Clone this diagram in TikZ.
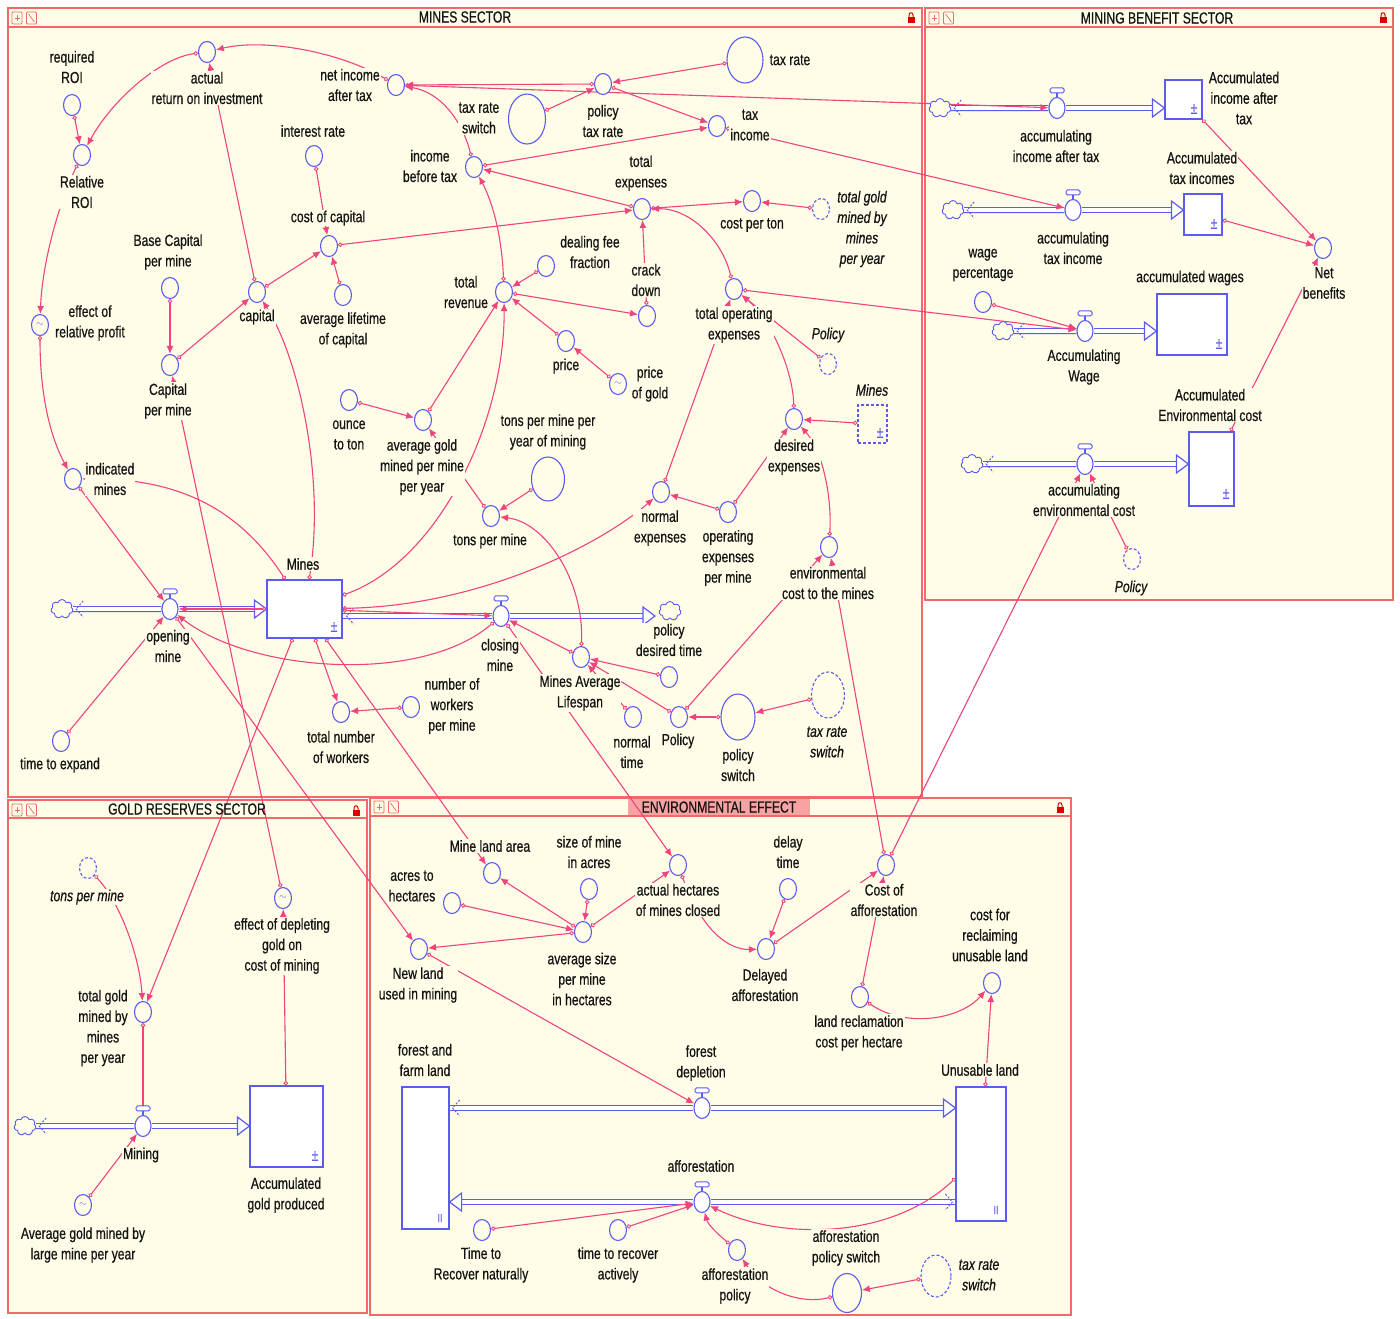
\documentclass[tikz,border=0pt]{standalone}
\usepackage{fontspec}
\setmainfont{Liberation Sans}[FakeStretch=0.76, FakeBold=0.6]
\usetikzlibrary{shapes.geometric,shapes.symbols,arrows.meta,calc}
\pgfdeclarelayer{back}
\pgfdeclarelayer{bg}
\pgfsetlayers{back,bg,main}

\definecolor{cream}{HTML}{FFFDE7}
\definecolor{frame}{HTML}{F06A6A}
\definecolor{linkc}{HTML}{F0447E}
\definecolor{bluec}{HTML}{5B5BEE}
\definecolor{titlebg}{HTML}{F7A3A3}
\definecolor{txt}{HTML}{141414}

\newcommand{\lblfont}{\fontsize{16}{20.5}\selectfont}
\newcommand{\gsym}{\textcolor{bluec}{\fontsize{10}{10}\selectfont$\sim$}}
\newcommand{\pmfont}{\fontsize{16}{16}\selectfont}

\tikzset{
  conv/.style={ellipse, draw=bluec, line width=1.1pt, fill=cream,
    minimum width=17pt, minimum height=21pt, inner sep=0pt},
  bigconv/.style={conv, minimum width=36pt, minimum height=46pt},
  ghost/.style={dash pattern=on 3pt off 2pt},
  valvebody/.style={ellipse, draw=bluec, line width=1.1pt, fill=white,
    minimum width=16pt, minimum height=21pt, inner sep=0pt},
  stockbox/.style={rectangle, draw=bluec, line width=1.2pt, fill=white, inner sep=0pt},
  cloudnode/.style={cloud, cloud puffs=7, draw=bluec, line width=0.9pt,
    minimum width=22pt, minimum height=19pt, inner sep=0pt, fill=cream},
  pipe/.style={draw=bluec, line width=1.2pt, double=white, double distance=3.6pt},
  pipehead/.style={draw=bluec, line width=1.2pt, fill=white, line join=miter},
  chev/.style={draw=bluec, line width=1pt, dash pattern=on 2pt off 1.5pt},
  link/.style={draw=linkc, line width=1.1pt,
    {Circle[open,length=4.5pt,width=4.5pt,line width=0.9pt]}-{Latex[length=8pt,width=7pt]}},
  lbl/.style={align=center, inner sep=1pt, fill=cream, font=\lblfont, text=txt},
  ilbl/.style={lbl, font=\lblfont\itshape},
  sector/.style={draw=frame, line width=1.5pt, fill=cream},
  headline/.style={draw=frame, line width=1.5pt},
  ttl/.style={inner sep=0pt, font=\lblfont, text=txt},
  pmark/.style={text=bluec, font=\pmfont, inner sep=0pt},
}

% inflow head pointing right / left, dashed chevrons
\newcommand{\headR}[1]{\draw[pipehead] ($#1+(-12,-9)$) -- #1 -- ($#1+(-12,9)$) -- cycle;}
\newcommand{\headL}[1]{\draw[pipehead] ($#1+(12,-9)$) -- #1 -- ($#1+(12,9)$) -- cycle;}
\newcommand{\chevL}[1]{\draw[chev] ($#1+(7,-8)$) -- #1 -- ($#1+(7,8)$);}
\newcommand{\chevR}[1]{\draw[chev] ($#1+(-7,-8)$) -- #1 -- ($#1+(-7,8)$);}
% flow valve with its handle
\newcommand{\mkvalve}[3]{%
  \node[valvebody] (#1) at (#2,#3) {};
  \draw[bluec, line width=1.3pt] (#1.north) -- ++(0,-4);
  \draw[bluec, line width=1pt, fill=white, rounded corners=1.5pt]
    ($(#1.north)+(-7,-4)$) rectangle ($(#1.north)+(7,-9)$);}
% title bar icons
\newcommand{\baricons}[2]{%
  \draw[frame, line width=0.9pt, rounded corners=1pt] (#1-5,#2-6) rectangle (#1+5,#2+6);
  \draw[frame, line width=0.7pt] (#1-2.5,#2) -- (#1+2.5,#2) (#1,#2-3) -- (#1,#2+3);
  \draw[frame, line width=0.9pt, rounded corners=1pt] (#1+9.5,#2-6) rectangle (#1+19.5,#2+6);
  \draw[frame, line width=0.7pt] (#1+11.5,#2-4) -- (#1+17.5,#2+4);}
\newcommand{\lockicon}[2]{%
  \fill[red!85!black] (#1-3.5,#2-1) rectangle (#1+3.5,#2+5);
  \draw[red!85!black, line width=1pt] (#1-2,#2-1) -- (#1-2,#2-3)
    .. controls (#1-2,#2-6) and (#1+2,#2-6) .. (#1+2,#2-3) -- (#1+2,#2-1);}

\begin{document}
\begin{tikzpicture}[x=1pt, y=-1pt]
\useasboundingbox (0,0) rectangle (1400,1318);

% ---------------- sector frames ----------------
\begin{pgfonlayer}{back}
\fill[white] (0,0) rectangle (1400,1318);
\draw[sector] (8,8) rectangle (922,797);
\draw[headline] (8,27) -- (922,27);
\draw[sector] (925,8) rectangle (1393,600);
\draw[headline] (925,27) -- (1393,27);
\draw[sector] (8,800) rectangle (367,1313);
\draw[headline] (8,818) -- (367,818);
\draw[sector] (370,798) rectangle (1071,1315);
\fill[titlebg] (628,799) rectangle (810,816);
\draw[headline] (370,816) -- (1071,816);
\baricons{17}{18}
\baricons{934}{18}
\baricons{17}{810}
\baricons{379}{807}
\lockicon{911}{18}
\lockicon{1383}{18}
\lockicon{356}{811}
\lockicon{1060}{808}
\end{pgfonlayer}

\node[ttl] (t-mines) at (465,17) {MINES SECTOR};
\node[ttl] (t-benefit) at (1157,18) {MINING BENEFIT SECTOR};
\node[ttl] (t-gold) at (187,809) {GOLD RESERVES SECTOR};
\node[ttl] (t-env) at (719,807) {ENVIRONMENTAL EFFECT};

% ---------------- labels ----------------
\node[lbl] (reqroi-l) at (72,67) {required\\ROI};
\node[lbl] (relroi-l) at (82,192) {Relative\\ROI};
\node[lbl] (actroi-l) at (207,88) {actual\\return on investment};
\node[lbl] (netinc-l) at (350,85) {net income\\after tax};
\node[lbl] (intrate-l) at (313,131) {interest rate};
\node[lbl] (costcap-l) at (328,218) {cost of capital};
\node[lbl] (incbt-l) at (430,166) {income\\before tax};
\node[lbl] (taxsw-l) at (479,118) {tax rate\\switch};
\node[lbl] (poltax-l) at (603,121) {policy\\tax rate};
\node[lbl] (taxrate-l) at (790,60) {tax rate};
\node[lbl] (taxinc-l) at (750,125) {tax\\income};
\node[lbl] (totexp-l) at (641,173) {total\\expenses};
\node[lbl] (costton-l) at (752,225) {cost per ton};
\node[ilbl] (totgoldg-l) at (862,229) {total gold\\mined by\\mines\\per year};
\node[lbl] (basecap-l) at (168,252) {Base Capital\\per mine};
\node[lbl] (capital-l) at (257,317) {capital};
\node[lbl] (avglife-l) at (343,330) {average lifetime\\of capital};
\node[lbl] (dealfee-l) at (590,252) {dealing fee\\fraction};
\node[lbl] (totrev-l) at (466,292) {total\\revenue};
\node[lbl] (crack-l) at (646,280) {crack\\down};
\node[lbl] (totopex-l) at (734,325) {total operating\\expenses};
\node[ilbl] (policyg-l) at (828,335) {Policy};
\node[lbl] (effrel-l) at (90,323) {effect of\\relative profit};
\node[lbl] (cappm-l) at (168,401) {Capital\\per mine};
\node[lbl] (price-l) at (566,366) {price};
\node[lbl] (pricegold-l) at (650,384) {price\\of gold};
\node[ilbl] (minesg-l) at (872,390) {Mines};
\node[lbl] (ounce-l) at (349,435) {ounce\\to ton};
\node[lbl] (tpmpy-l) at (548,432) {tons per mine per\\year of mining};
\node[lbl] (desexp-l) at (794,457) {desired\\expenses};
\node[lbl] (avggold-l) at (422,467) {average gold\\mined per mine\\per year};
\node[lbl] (indmines-l) at (110,479) {indicated\\mines};
\node[lbl] (normexp-l) at (660,528) {normal\\expenses};
\node[lbl] (opexpm-l) at (728,558) {operating\\expenses\\per mine};
\node[lbl] (tonspm-l) at (490,541) {tons per mine};
\node[lbl] (envcost-l) at (828,583) {environmental\\cost to the mines};
\node[lbl] (mines-l) at (303,564) {Mines};
\node[lbl] (openv-l) at (168,646) {opening\\mine};
\node[lbl] (closev-l) at (500,655) {closing\\mine};
\node[lbl] (poldt-l) at (669,640) {policy\\desired time};
\node[lbl] (mal-l) at (580,693) {Mines Average\\Lifespan};
\node[lbl] (nwpm-l) at (452,706) {number of\\workers\\per mine};
\node[lbl] (totwork-l) at (341,747) {total number\\of workers};
\node[lbl] (normtime-l) at (632,752) {normal\\time};
\node[lbl] (policy-l) at (678,741) {Policy};
\node[lbl] (polsw-l) at (738,765) {policy\\switch};
\node[ilbl] (taxswg-l) at (827,742) {tax rate\\switch};
\node[lbl] (timeexp-l) at (60,765) {time to expand};

\node[lbl] (accinc-l) at (1244,98) {Accumulated\\income after\\tax};
\node[lbl] (vinc-l) at (1056,146) {accumulating\\income after tax};
\node[lbl] (acctax-l) at (1202,168) {Accumulated\\tax incomes};
\node[lbl] (vtax-l) at (1073,248) {accumulating\\tax income};
\node[lbl] (netben-l) at (1324,283) {Net\\benefits};
\node[lbl] (wageperc-l) at (983,265) {wage\\percentage};
\node[lbl] (accwage-l) at (1190,278) {accumulated wages};
\node[lbl] (vwage-l) at (1084,367) {Accumulating\\Wage};
\node[lbl] (accenv-l) at (1210,405) {Accumulated\\Environmental cost};
\node[lbl] (venv-l) at (1084,500) {accumulating\\environmental cost};
\node[ilbl] (policyg2-l) at (1131,588) {Policy};

\node[ilbl] (tpmg-l) at (87,897) {tons per mine};
\node[lbl] (effdepl-l) at (282,946) {effect of depleting\\gold on\\cost of mining};
\node[lbl] (totgold-l) at (103,1028) {total gold\\mined by\\mines\\per year};
\node[lbl] (vmin-l) at (141,1155) {Mining};
\node[lbl] (accgold-l) at (286,1195) {Accumulated\\gold produced};
\node[lbl] (avglarge-l) at (83,1245) {Average gold mined by\\large mine per year};

\node[lbl] (mla-l) at (490,846) {Mine land area};
\node[lbl] (sizem-l) at (589,852) {size of mine\\in acres};
\node[lbl] (acres-l) at (412,886) {acres to\\hectares};
\node[lbl] (acth-l) at (678,900) {actual hectares\\of mines closed};
\node[lbl] (delayt-l) at (788,852) {delay\\time};
\node[lbl] (costaff-l) at (884,900) {Cost of\\afforestation};
\node[lbl] (costrecl-l) at (990,935) {cost for\\reclaiming\\unusable land};
\node[lbl] (newland-l) at (418,985) {New land\\used in mining};
\node[lbl] (avgsize-l) at (582,979) {average size\\per mine\\in hectares};
\node[lbl] (delaff-l) at (765,985) {Delayed\\afforestation};
\node[lbl] (landrec-l) at (859,1033) {land reclamation\\cost per hectare};
\node[lbl] (forest-l) at (425,1060) {forest and\\farm land};
\node[lbl] (vdep-l) at (701,1063) {forest\\depletion};
\node[lbl] (unusable-l) at (980,1070) {Unusable land};
\node[lbl] (vaff-l) at (701,1166) {afforestation};
\node[lbl] (timenat-l) at (481,1265) {Time to\\Recover naturally};
\node[lbl] (timeact-l) at (618,1265) {time to recover\\actively};
\node[lbl] (affpol-l) at (735,1286) {afforestation\\policy};
\node[lbl] (affpolsw-l) at (846,1248) {afforestation\\policy switch};
\node[ilbl] (taxswg2-l) at (979,1275) {tax rate\\switch};

% ---------------- mines sector elements ----------------
\node[conv] (reqroi) at (72,105) {};
\node[conv] (relroi) at (82,155) {};
\node[conv] (actroi) at (207,52) {};
\node[conv] (netinc) at (396,85) {};
\node[conv] (intrate) at (314,156) {};
\node[conv] (costcap) at (329,246) {};
\node[conv] (incbt) at (474,167) {};
\node[bigconv, minimum width=37pt, minimum height=50pt] (taxsw) at (527,119) {};
\node[conv] (poltax) at (603,84) {};
\node[bigconv] (taxrate) at (745,60) {};
\node[conv] (taxinc) at (717,126) {};
\node[conv] (totexp) at (642,209) {};
\node[conv] (costton) at (752,201) {};
\node[conv, ghost] (totgoldg) at (821,209) {};
\node[conv] (basecap) at (170,288) {};
\node[conv] (capital) at (257,292) {};
\node[conv] (avglife) at (343,295) {};
\node[conv] (dealfee) at (546,266) {};
\node[conv] (totrev) at (504,292) {};
\node[conv] (crack) at (647,316) {};
\node[conv] (totopex) at (734,289) {};
\node[conv, ghost] (policyg) at (828,364) {};
\node[conv] (effrel) at (40,325) {\gsym};
\node[conv] (cappm) at (170,365) {};
\node[conv] (price) at (566,341) {};
\node[conv] (pricegold) at (618,384) {\gsym};
\node[conv] (ounce) at (349,400) {};
\node[conv] (avggold) at (423,420) {};
\node[conv, minimum width=33pt, minimum height=44pt] (tpmpy) at (548,479) {};
\node[stockbox, ghost, fill=cream, minimum width=29pt, minimum height=38pt] (minesg) at (872.5,424) {};
\node[pmark] (minesg-pm) at (880,433) {±};
\node[conv] (desexp) at (794,419) {};
\node[conv] (indmines) at (73,479) {};
\node[conv] (tonspm) at (491,516) {};
\node[conv] (normexp) at (661,492) {};
\node[conv] (opexpm) at (728,512) {};
\node[conv] (envcost) at (829,547) {};
\node[stockbox, minimum width=75pt, minimum height=58pt] (mines) at (304.5,609) {};
\node[pmark] (mines-pm) at (334,627) {±};
\mkvalve{openv}{170}{609}
\mkvalve{closev}{501}{616}
\node[conv] (mal) at (581,657) {};
\node[conv] (poldt) at (669,677) {};
\node[conv] (normtime) at (633,717) {};
\node[conv] (policy) at (679,717) {};
\node[bigconv, minimum width=34pt] (polsw) at (738,717) {};
\node[bigconv, ghost, minimum width=33pt] (taxswg) at (828,695) {};
\node[conv] (nwpm) at (411,707) {};
\node[conv] (totwork) at (341,712) {};
\node[conv] (timeexp) at (61,741) {};
\node[cloudnode] (cl1) at (62,609) {};
\node[cloudnode] (cl2) at (670,611) {};

% ---------------- mining benefit sector elements ----------------
\node[cloudnode] (cl3) at (940,108) {};
\mkvalve{vinc}{1057}{108}
\node[stockbox, minimum width=37pt, minimum height=39pt] (accinc) at (1183.5,99.5) {};
\node[pmark] (accinc-pm) at (1194,109) {±};
\node[cloudnode] (cl4) at (953,210) {};
\mkvalve{vtax}{1073}{210}
\node[stockbox, minimum width=38pt, minimum height=41pt] (acctax) at (1203,214.5) {};
\node[pmark] (acctax-pm) at (1214,224) {±};
\node[conv] (netben) at (1323,248) {};
\node[conv] (wageperc) at (983,302) {};
\node[cloudnode] (cl5) at (1003,331) {};
\mkvalve{vwage}{1085}{331}
\node[stockbox, minimum width=70pt, minimum height=61pt] (accwage) at (1192,324.5) {};
\node[pmark] (accwage-pm) at (1219,344) {±};
\node[cloudnode] (cl6) at (972,464) {};
\mkvalve{venv}{1085}{464}
\node[stockbox, minimum width=45pt, minimum height=74pt] (accenv) at (1211.5,469) {};
\node[pmark] (accenv-pm) at (1226,494) {±};
\node[conv, ghost] (policyg2) at (1132,559) {};

% ---------------- gold reserves sector elements ----------------
\node[conv, ghost] (tpmg) at (88,868) {};
\node[conv] (effdepl) at (283,898) {\gsym};
\node[conv] (totgold) at (143,1012) {};
\node[cloudnode] (cl7) at (25,1126) {};
\mkvalve{vmin}{143}{1126}
\node[stockbox, minimum width=73pt, minimum height=81pt] (accgold) at (286.5,1126.5) {};
\node[pmark] (accgold-pm) at (315,1156) {±};
\node[conv] (avglarge) at (83,1205) {\gsym};

% ---------------- environmental effect elements ----------------
\node[conv] (mla) at (492,873) {};
\node[conv] (acres) at (452,903) {};
\node[conv] (sizem) at (589,889) {};
\node[conv] (avgsize) at (583,932) {};
\node[conv] (newland) at (419,949) {};
\node[conv] (acth) at (678,865) {};
\node[conv] (delayt) at (788,889) {};
\node[conv] (delaff) at (766,949) {};
\node[conv] (costaff) at (886,865) {};
\node[conv] (landrec) at (860,997) {};
\node[conv] (costrecl) at (992,983) {};
\node[stockbox, minimum width=47pt, minimum height=142pt] (forest) at (425.5,1158) {};
\node[text=bluec, font=\fontsize{12}{12}\selectfont, inner sep=0pt] (forest-mk) at (440,1218) {II};
\node[stockbox, minimum width=50pt, minimum height=134pt] (unusable) at (981,1154) {};
\node[text=bluec, font=\fontsize{12}{12}\selectfont, inner sep=0pt] (unusable-mk) at (996,1210) {II};
\mkvalve{vdep}{702}{1108}
\mkvalve{vaff}{702}{1202}
\node[conv] (timenat) at (482,1230) {};
\node[conv] (timeact) at (618,1230) {};
\node[conv] (affpol) at (737,1250) {};
\node[bigconv, minimum width=29pt, minimum height=39pt] (affpolsw) at (847,1293) {};
\node[bigconv, ghost, minimum width=30pt, minimum height=42pt] (taxswg2) at (936,1276) {};

% ---------------- flows ----------------
\begin{pgfonlayer}{bg}
% opening mine
\coordinate (minIn) at (mines.west |- openv);
\coordinate (cl1ch) at ($(cl1.east)+(3,0)$);
\draw[pipe] (cl1) -- (openv);
\draw[pipe] (openv) -- ($(minIn)+(-12,0)$);
\headR{(minIn)}
\chevL{(cl1ch)}
% closing mine
\coordinate (minOut) at (mines.east |- closev);
\coordinate (minOutCh) at ($(minOut)+(4,0)$);
\coordinate (cl2in) at (655,616);
\draw[pipe] (minOut) -- (closev);
\draw[pipe] (closev) -- ($(cl2in)+(-12,0)$);
\headR{(cl2in)}
\chevL{(minOutCh)}
% accumulating income after tax
\coordinate (incIn) at (accinc.west |- vinc);
\coordinate (cl3ch) at ($(cl3.east)+(3,0)$);
\draw[pipe] (cl3) -- (vinc);
\draw[pipe] (vinc) -- ($(incIn)+(-12,0)$);
\headR{(incIn)}
\chevL{(cl3ch)}
% accumulating tax income
\coordinate (taxIn) at (acctax.west |- vtax);
\coordinate (cl4ch) at ($(cl4.east)+(3,0)$);
\draw[pipe] (cl4) -- (vtax);
\draw[pipe] (vtax) -- ($(taxIn)+(-12,0)$);
\headR{(taxIn)}
\chevL{(cl4ch)}
% accumulating wage
\coordinate (wageIn) at (accwage.west |- vwage);
\coordinate (cl5ch) at ($(cl5.east)+(3,0)$);
\draw[pipe] (cl5) -- (vwage);
\draw[pipe] (vwage) -- ($(wageIn)+(-12,0)$);
\headR{(wageIn)}
\chevL{(cl5ch)}
% accumulating environmental cost
\coordinate (envIn) at (accenv.west |- venv);
\coordinate (cl6ch) at ($(cl6.east)+(3,0)$);
\draw[pipe] (cl6) -- (venv);
\draw[pipe] (venv) -- ($(envIn)+(-12,0)$);
\headR{(envIn)}
\chevL{(cl6ch)}
% mining
\coordinate (goldIn) at (accgold.west |- vmin);
\coordinate (cl7ch) at ($(cl7.east)+(3,0)$);
\draw[pipe] (cl7) -- (vmin);
\draw[pipe] (vmin) -- ($(goldIn)+(-12,0)$);
\headR{(goldIn)}
\chevL{(cl7ch)}
% forest depletion
\coordinate (depOut) at (forest.east |- vdep);
\coordinate (depOutCh) at ($(depOut)+(3,0)$);
\coordinate (depIn) at (unusable.west |- vdep);
\draw[pipe] (depOut) -- (vdep);
\draw[pipe] (vdep) -- ($(depIn)+(-12,0)$);
\headR{(depIn)}
\chevL{(depOutCh)}
% afforestation
\coordinate (affOut) at (unusable.west |- vaff);
\coordinate (affOutCh) at ($(affOut)+(-3,0)$);
\coordinate (affIn) at (forest.east |- vaff);
\draw[pipe] (affOut) -- (vaff);
\draw[pipe] (vaff) -- ($(affIn)+(12,0)$);
\headL{(affIn)}
\chevR{(affOutCh)}

% ---------------- connectors ----------------
% mines sector
\draw[link] (reqroi) -- (relroi);
\draw[link] (actroi) .. controls (160,58) and (112,100) .. (relroi);
\draw[link] (netinc) .. controls (340,52) and (265,38) .. (actroi);
\draw[link] (intrate) -- (costcap);
\draw[link] (capital) -- (costcap);
\draw[link] (avglife) -- (costcap);
\draw[link] (costcap) -- (totexp);
\draw[link] (capital) -- (actroi);
\draw[link] (basecap) -- (cappm);
\draw[link] (cappm) -- (capital);
\draw[link] (mines) .. controls (325,480) and (300,360) .. (capital);
\draw[link] (taxrate) -- (poltax);
\draw[link] (taxsw) -- (poltax);
\draw[link] (poltax) -- (netinc);
\draw[link] (poltax) -- (taxinc);
\draw[link] (incbt) -- (taxinc);
\draw[link] (incbt) .. controls (462,120) and (440,92) .. (netinc);
\draw[link] (totexp) -- (incbt);
\draw[link] (totrev) .. controls (502,240) and (494,205) .. (incbt);
\draw[link] (totexp) -- (costton);
\draw[link] (totgoldg) -- (costton);
\draw[link] (totopex) .. controls (722,240) and (690,208) .. (totexp);
\draw[link] (crack) -- (totexp);
\draw[link] (dealfee) -- (totrev);
\draw[link] (totrev) -- (crack);
\draw[link] (price) -- (totrev);
\draw[link] (pricegold) -- (price);
\draw[link] (avggold) -- (totrev);
\draw[link] (mines) .. controls (440,560) and (505,420) .. (totrev);
\draw[link] (policyg) -- (totopex);
\draw[link] (desexp) .. controls (793,370) and (770,318) .. (totopex);
\draw[link] (normexp) -- (totopex);
\draw[link] (opexpm) -- (normexp);
\draw[link] (mines) .. controls (480,606) and (600,545) .. (normexp);
\draw[link] (minesg) -- (desexp);
\draw[link] (opexpm) -- (desexp);
\draw[link] (envcost) .. controls (832,495) and (822,450) .. (desexp);
\draw[link] (costaff) -- (envcost);
\draw[link] (policy) -- (envcost);
\draw[link] (mal) -- (closev);
\draw[link] (poldt) -- (mal);
\draw[link] (mal) .. controls (584,580) and (545,522) .. (tonspm);
\draw[link] (tpmpy) -- (tonspm);
\draw[link] (tonspm) -- (avggold);
\draw[link] (ounce) -- (avggold);
\draw[link] (policy) -- (mal);
\draw[link] (normtime) -- (mal);
\draw[link] (mines) -- (openv);
\draw[link] (mines) -- (closev);
\draw[link] (closev) .. controls (420,685) and (250,672) .. (openv);
\draw[link] (indmines) -- (openv);
\draw[link] (effrel) .. controls (40,400) and (52,440) .. (indmines);
\draw[link] (relroi) .. controls (58,205) and (42,265) .. (effrel);
\draw[link] (mines) .. controls (240,510) and (180,478) .. (indmines);
\draw[link] (timeexp) -- (openv);
\draw[link] (mines) -- (totwork);
\draw[link] (nwpm) -- (totwork);
\draw[link] (taxswg) -- (polsw);
\draw[link] (polsw) -- (policy);
% links into the benefit sector
\draw[link] (netinc) -- (vinc);
\draw[link] (taxinc) -- (vtax);
\draw[link] (totopex) -- (vwage);
\draw[link] (wageperc) -- (vwage);
\draw[link] (accinc) -- (netben);
\draw[link] (acctax) -- (netben);
\draw[link] (accenv) -- (netben);
\draw[link] (costaff) -- (venv);
\draw[link] (policyg2) -- (venv);
% links into the gold reserves sector
\draw[link] (effdepl) -- (cappm);
\draw[link] (accgold) -- (effdepl);
\draw[link] (mines) -- (totgold);
\draw[link] (tpmg) .. controls (122,905) and (140,960) .. (totgold);
\draw[link] (totgold) -- (vmin);
\draw[link] (avglarge) -- (vmin);
% links into the environmental sector
\draw[link] (openv) -- (newland);
\draw[link] (mines) -- (mla);
\draw[link] (closev) -- (acth);
\draw[link] (avgsize) -- (mla);
\draw[link] (acres) -- (avgsize);
\draw[link] (sizem) -- (avgsize);
\draw[link] (avgsize) -- (newland);
\draw[link] (avgsize) -- (acth);
\draw[link] (acth) .. controls (702,930) and (728,950) .. (delaff);
\draw[link] (delayt) -- (delaff);
\draw[link] (delaff) -- (costaff);
\draw[link] (landrec) -- (costaff);
\draw[link] (landrec) .. controls (905,1028) and (960,1020) .. (costrecl);
\draw[link] (unusable) -- (costrecl);
\draw[link] (newland) -- (vdep);
\draw[link] (timenat) -- (vaff);
\draw[link] (timeact) -- (vaff);
\draw[link] (affpol) .. controls (720,1236) and (708,1225) .. (vaff);
\draw[link] (unusable) .. controls (890,1240) and (780,1240) .. (vaff);
\draw[link] (affpolsw) .. controls (800,1305) and (762,1290) .. (affpol);
\draw[link] (taxswg2) -- (affpolsw);
\end{pgfonlayer}
\end{tikzpicture}
\end{document}
